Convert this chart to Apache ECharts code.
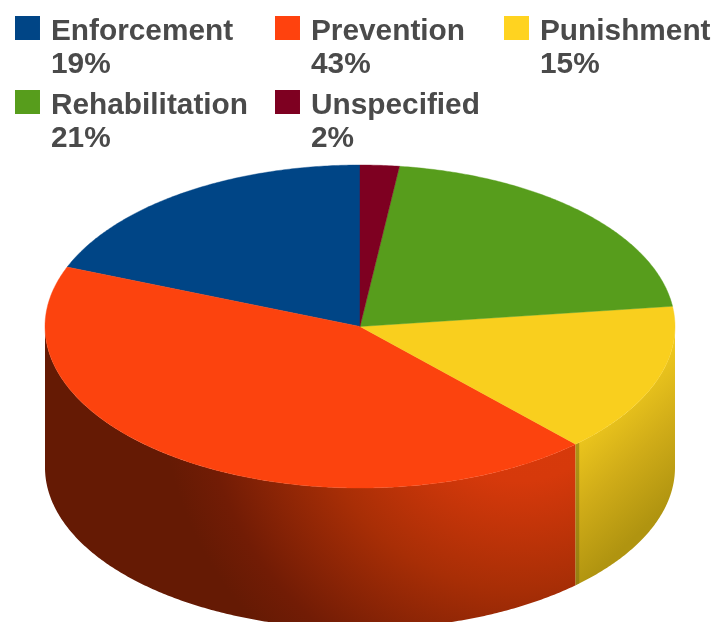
<!DOCTYPE html>
<html><head><meta charset="utf-8">
<style>html,body{margin:0;padding:0;background:#fff}#c{width:713px;height:622px;filter:blur(0.6px)}</style>
<script src="https://cdn.jsdelivr.net/npm/echarts@6/dist/echarts.min.js"></script>
</head><body><div id="c"></div>
<script>
const categories = ['Enforcement','Prevention','Punishment','Rehabilitation','Unspecified'];
const shares = [19,43,15,21,2];
const legendColors = ['#004586','#ff420e','#ffd320','#579d1c','#7e0021'];
const topColors = ['#004586','#fc430e','#f9cf1e','#579d1c','#7e0021'];

const CX=360, CY=326.5, RX=315, RY=161.5, DEPTH=141, STEP=0.5;
const total = shares.reduce((a,b)=>a+b,0);
const px = t => CX+RX*Math.sin(t*Math.PI/180);
const py = (t,d) => CY-RY*Math.cos(t*Math.PI/180)+(d||0);
function arc(a,b,d){const n=Math.max(2,Math.ceil(Math.abs(b-a)/STEP));const o=[];for(let i=0;i<=n;i++){const t=a+(b-a)*i/n;o.push([px(t),py(t,d)]);}return o;}

const wallFill = {
  Prevention:{type:'radial',x:520,y:380,r:360,global:true,colorStops:[
    {offset:0,color:'#d93b0b'},{offset:0.28,color:'#d6390b'},{offset:0.58,color:'#a82e06'},{offset:0.88,color:'#721c05'},{offset:1,color:'#651a04'}]},
  Punishment:{type:'linear',x:610,y:400,x2:690,y2:485,global:true,colorStops:[
    {offset:0,color:'#f0c91e'},{offset:0.5,color:'#d0ac18'},{offset:1,color:'#b09410'}]}
};

function renderer(idx){
  return function(params,api){
    const v=api.value(0);
    const before=shares.slice(0,idx).reduce((a,b)=>a+b,0);
    const end=360-before/total*360, start=end-v/total*360; // counter-clockwise from the top
    const children=[];
    const a=Math.max(start,90), b=Math.min(end,270);
    const name=categories[idx];
    if(b>a && wallFill[name]){
      children.push({type:'polygon',shape:{points:arc(a,b,0).concat(arc(b,a,DEPTH))},style:{fill:wallFill[name]}});
      if(name==='Punishment'){
        const t=b-0.9;
        children.push({type:'polygon',shape:{points:arc(t,b,0).concat(arc(b,t,DEPTH))},
          style:{fill:'#7d6e12',opacity:0.55}});
      }
    }
    children.push({type:'polygon',shape:{points:[[CX,CY]].concat(arc(start,end,0))},
      style:{fill:topColors[idx],stroke:topColors[idx],lineWidth:0.4}});
    return {type:'group',children};
  };
}

const pctOf = n => shares[categories.indexOf(n)]+'%';
const icon='path://M0 0H25V24H0Z M31 64H31.01V64.01Z';
function legend(left,top,names,gap){
  return {left,top,orient:'vertical',itemGap:gap,data:names.map(name=>({name,icon})),
    itemWidth:31,itemHeight:64,selectedMode:false,padding:0,
    formatter:n=>n+'\n'+pctOf(n),
    textStyle:{fontFamily:'Liberation Sans',fontWeight:'bold',fontSize:29.8,lineHeight:33,color:'#4a4a4a'}};
}

const option={
  animation:false,backgroundColor:'#fff',
  legend:[
    legend(15,15,[categories[0],categories[3]],8),
    legend(275,15,[categories[1],categories[4]],8),
    legend(504,15,[categories[2]],8)
  ],
  series:categories.map((name,i)=>({
    type:'custom',name,coordinateSystem:'none',silent:true,clip:false,
    itemStyle:{color:legendColors[i]},
    data:[[shares[i]]],renderItem:renderer(i)
  }))
};
const chart=echarts.init(document.getElementById('c'));
chart.setOption(option);
</script></body></html>
